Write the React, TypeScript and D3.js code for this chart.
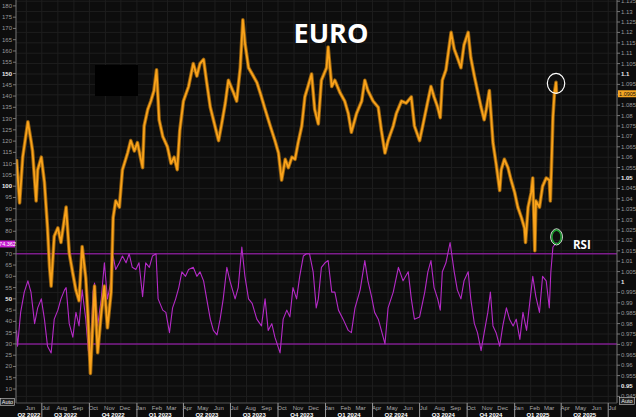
import * as d3 from "d3"

// EUR/USD (date, price)
const priceSeries: [string, number][] = [
  ["2022-05-13", 1.059], ["2022-05-19", 1.038], ["2022-05-25", 1.06], ["2022-06-04", 1.077],
  ["2022-06-10", 1.068], ["2022-06-13", 1.063], ["2022-06-20", 1.039], ["2022-06-23", 1.054],
  ["2022-06-30", 1.06], ["2022-07-06", 1.048], ["2022-07-12", 1.026], ["2022-07-16", 1.007],
  ["2022-07-19", 0.998], ["2022-07-25", 1.022], ["2022-08-01", 1.026], ["2022-08-07", 1.019],
  ["2022-08-17", 1.036], ["2022-08-23", 1.014], ["2022-08-30", 1.004], ["2022-09-05", 0.996],
  ["2022-09-11", 0.991], ["2022-09-17", 1.017], ["2022-09-24", 1.002], ["2022-09-28", 0.985],
  ["2022-10-03", 0.956], ["2022-10-08", 0.982], ["2022-10-11", 0.998], ["2022-10-17", 0.966],
  ["2022-10-24", 0.985], ["2022-10-30", 0.998], ["2022-11-05", 0.978], ["2022-11-12", 0.995],
  ["2022-11-16", 1.031], ["2022-11-21", 1.039], ["2022-11-28", 1.036], ["2022-12-04", 1.054],
  ["2022-12-14", 1.062], ["2022-12-20", 1.068], ["2022-12-27", 1.063], ["2023-01-02", 1.067],
  ["2023-01-12", 1.055], ["2023-01-15", 1.075], ["2023-01-22", 1.083], ["2023-01-28", 1.087],
  ["2023-02-03", 1.092], ["2023-02-08", 1.102], ["2023-02-13", 1.078], ["2023-02-20", 1.07],
  ["2023-03-01", 1.065], ["2023-03-08", 1.057], ["2023-03-14", 1.06], ["2023-03-20", 1.054],
  ["2023-03-25", 1.073], ["2023-04-01", 1.087], ["2023-04-11", 1.094], ["2023-04-20", 1.105],
  ["2023-04-27", 1.099], ["2023-05-03", 1.105], ["2023-05-10", 1.107], ["2023-05-16", 1.096],
  ["2023-05-23", 1.084], ["2023-06-01", 1.075], ["2023-06-08", 1.068], ["2023-06-14", 1.076],
  ["2023-06-21", 1.086], ["2023-06-27", 1.097], ["2023-07-07", 1.091], ["2023-07-13", 1.087],
  ["2023-07-20", 1.103], ["2023-07-25", 1.126], ["2023-07-29", 1.115], ["2023-08-05", 1.103],
  ["2023-08-12", 1.1], ["2023-08-21", 1.096], ["2023-08-30", 1.089], ["2023-09-06", 1.083],
  ["2023-09-16", 1.075], ["2023-09-25", 1.068], ["2023-10-02", 1.062], ["2023-10-08", 1.049],
  ["2023-10-15", 1.059], ["2023-10-21", 1.055], ["2023-10-28", 1.06], ["2023-11-03", 1.059],
  ["2023-11-09", 1.067], ["2023-11-16", 1.075], ["2023-11-22", 1.089], ["2023-11-28", 1.094],
  ["2023-12-05", 1.1], ["2023-12-11", 1.083], ["2023-12-18", 1.076], ["2023-12-24", 1.097],
  ["2024-01-03", 1.103], ["2024-01-06", 1.113], ["2024-01-13", 1.094], ["2024-01-19", 1.097],
  ["2024-01-29", 1.091], ["2024-02-07", 1.087], ["2024-02-14", 1.081], ["2024-02-20", 1.072],
  ["2024-03-01", 1.081], ["2024-03-11", 1.087], ["2024-03-17", 1.097], ["2024-03-23", 1.092],
  ["2024-04-02", 1.087], ["2024-04-12", 1.084], ["2024-04-18", 1.073], ["2024-04-25", 1.062],
  ["2024-05-01", 1.068], ["2024-05-11", 1.075], ["2024-05-17", 1.081], ["2024-05-27", 1.087],
  ["2024-06-05", 1.086], ["2024-06-15", 1.089], ["2024-06-21", 1.075], ["2024-07-01", 1.068],
  ["2024-07-07", 1.075], ["2024-07-17", 1.087], ["2024-07-23", 1.094], ["2024-07-29", 1.089],
  ["2024-08-05", 1.084], ["2024-08-10", 1.079], ["2024-08-14", 1.097], ["2024-08-21", 1.102],
  ["2024-08-31", 1.12], ["2024-09-06", 1.112], ["2024-09-12", 1.108], ["2024-09-19", 1.103],
  ["2024-09-25", 1.114], ["2024-10-03", 1.12], ["2024-10-08", 1.108], ["2024-10-15", 1.099],
  ["2024-10-21", 1.092], ["2024-10-28", 1.084], ["2024-11-03", 1.078], ["2024-11-07", 1.083],
  ["2024-11-13", 1.092], ["2024-11-20", 1.067], ["2024-11-26", 1.057], ["2024-12-03", 1.044],
  ["2024-12-06", 1.054], ["2024-12-12", 1.059], ["2024-12-19", 1.055], ["2024-12-25", 1.049],
  ["2025-01-01", 1.043], ["2025-01-07", 1.036], ["2025-01-14", 1.031], ["2025-01-20", 1.026],
  ["2025-01-22", 1.019], ["2025-01-27", 1.036], ["2025-02-02", 1.043], ["2025-02-05", 1.05],
  ["2025-02-09", 1.015], ["2025-02-11", 1.039], ["2025-02-18", 1.036], ["2025-02-24", 1.046],
  ["2025-03-03", 1.05], ["2025-03-09", 1.049], ["2025-03-11", 1.039], ["2025-03-14", 1.062],
  ["2025-03-16", 1.079], ["2025-03-19", 1.091], ["2025-03-22", 1.096], ["2025-03-23", 1.0905],
]

// 14-day RSI (date, value)
const rsiSeries: [string, number][] = [
  ["2022-05-13", 36], ["2022-05-15", 29], ["2022-05-21", 44], ["2022-05-28", 53], ["2022-06-04", 58],
  ["2022-06-10", 53], ["2022-06-17", 39], ["2022-06-23", 46], ["2022-06-30", 50], ["2022-07-06", 41],
  ["2022-07-12", 29], ["2022-07-19", 26], ["2022-07-25", 41], ["2022-08-01", 45], ["2022-08-07", 50],
  ["2022-08-14", 54], ["2022-08-17", 55], ["2022-08-23", 39], ["2022-08-30", 33], ["2022-09-05", 44],
  ["2022-09-11", 38], ["2022-09-17", 54], ["2022-09-24", 41], ["2022-09-29", 27], ["2022-10-03", 22],
  ["2022-10-08", 53], ["2022-10-11", 57], ["2022-10-17", 38], ["2022-10-24", 50], ["2022-10-30", 66],
  ["2022-11-05", 50], ["2022-11-12", 58], ["2022-11-16", 69], ["2022-11-21", 63], ["2022-11-28", 66],
  ["2022-12-04", 69], ["2022-12-11", 66], ["2022-12-17", 70], ["2022-12-23", 64], ["2022-12-30", 63],
  ["2023-01-05", 66], ["2023-01-12", 51], ["2023-01-18", 66], ["2023-01-25", 64], ["2023-01-31", 69],
  ["2023-02-07", 70], ["2023-02-11", 50], ["2023-02-20", 45], ["2023-02-26", 44], ["2023-03-05", 35],
  ["2023-03-11", 46], ["2023-03-17", 50], ["2023-03-23", 55], ["2023-03-29", 62], ["2023-04-05", 60],
  ["2023-04-11", 63], ["2023-04-20", 64], ["2023-04-27", 60], ["2023-05-03", 62], ["2023-05-10", 58],
  ["2023-05-16", 50], ["2023-05-23", 41], ["2023-05-29", 36], ["2023-06-05", 34], ["2023-06-11", 41],
  ["2023-06-17", 50], ["2023-06-24", 64], ["2023-06-30", 58], ["2023-07-10", 50], ["2023-07-16", 55],
  ["2023-07-23", 73], ["2023-07-29", 60], ["2023-08-05", 50], ["2023-08-12", 48], ["2023-08-21", 41],
  ["2023-08-30", 38], ["2023-09-06", 50], ["2023-09-12", 36], ["2023-09-19", 39], ["2023-09-25", 33],
  ["2023-10-05", 26], ["2023-10-11", 41], ["2023-10-18", 45], ["2023-10-24", 42], ["2023-10-30", 55],
  ["2023-11-06", 50], ["2023-11-12", 60], ["2023-11-19", 69], ["2023-11-25", 70], ["2023-12-01", 70],
  ["2023-12-08", 62], ["2023-12-14", 46], ["2023-12-18", 50], ["2023-12-24", 64], ["2023-12-31", 66],
  ["2024-01-06", 67], ["2024-01-13", 53], ["2024-01-19", 53], ["2024-01-26", 45], ["2024-02-04", 41],
  ["2024-02-14", 36], ["2024-02-20", 35], ["2024-02-27", 46], ["2024-03-08", 54], ["2024-03-17", 67],
  ["2024-03-23", 58], ["2024-03-30", 51], ["2024-04-05", 44], ["2024-04-12", 41], ["2024-04-18", 36],
  ["2024-04-25", 30], ["2024-05-01", 46], ["2024-05-11", 53], ["2024-05-21", 64], ["2024-05-30", 58],
  ["2024-06-09", 62], ["2024-06-15", 50], ["2024-06-21", 41], ["2024-07-01", 42], ["2024-07-11", 53],
  ["2024-07-17", 62], ["2024-07-23", 67], ["2024-07-29", 55], ["2024-08-05", 50], ["2024-08-10", 45],
  ["2024-08-14", 62], ["2024-08-21", 66], ["2024-08-29", 75], ["2024-09-06", 62], ["2024-09-12", 54],
  ["2024-09-19", 50], ["2024-09-25", 58], ["2024-10-03", 62], ["2024-10-08", 50], ["2024-10-15", 39],
  ["2024-10-21", 35], ["2024-10-28", 27], ["2024-11-03", 35], ["2024-11-10", 44], ["2024-11-15", 53],
  ["2024-11-20", 38], ["2024-11-26", 35], ["2024-12-03", 29], ["2024-12-09", 38], ["2024-12-16", 46],
  ["2024-12-22", 41], ["2024-12-29", 38], ["2025-01-04", 41], ["2025-01-11", 32], ["2025-01-17", 44],
  ["2025-01-24", 36], ["2025-01-30", 48], ["2025-02-05", 60], ["2025-02-11", 51], ["2025-02-18", 44],
  ["2025-02-24", 60], ["2025-03-03", 58], ["2025-03-09", 46], ["2025-03-12", 62], ["2025-03-16", 73],
  ["2025-03-23", 75],
]

const rsiLevels = [70, 30]
const rsiTicks = d3.range(10, 181, 5)
const priceTicks = d3.range(945, 1136, 5).map((v) => v / 1000)
const lastPrice = "1.0905"
const lastRsi = "74.362"

const W = 636
const H = 417
const plot = { left: 16, right: 617, top: 0, bottom: 403 }

const parse = d3.timeParse("%Y-%m-%d")

export default function App() {
  const x = d3
    .scaleTime()
    .domain([new Date(2022, 4, 12), new Date(2025, 6, 18)])
    .range([plot.left, plot.right])
  const yPrice = d3.scaleLinear().domain([0.945, 1.135]).range([396.4, 1.2])
  const yRsi = d3.scaleLinear().domain([10, 180]).range([389, 5.9])

  const price = priceSeries.map(([d, v]) => ({ date: parse(d) as Date, v }))
  const rsi = rsiSeries.map(([d, v]) => ({ date: parse(d) as Date, v }))

  const priceLine = d3
    .line<{ date: Date; v: number }>()
    .x((d) => x(d.date))
    .y((d) => yPrice(d.v))
  const rsiLine = d3
    .line<{ date: Date; v: number }>()
    .x((d) => x(d.date))
    .y((d) => yRsi(d.v))

  const months = d3.timeMonth.range(new Date(2022, 5, 1), new Date(2025, 7, 1))
  const quarters = d3.timeMonth.every(3)!.range(new Date(2022, 3, 1), new Date(2025, 6, 1))
  const fmtPrice = (v: number) => String(+v.toFixed(3))
  const axisFont = "'Liberation Sans', Arial, sans-serif"

  const last = price[price.length - 1]
  const lastR = rsi[rsi.length - 1]
  const lastPriceY = yPrice(+lastPrice)
  const lastRsiY = yRsi(+lastRsi)

  return (
    <svg
      width={W}
      height={H}
      style={{ position: "absolute", left: 0, top: 0, display: "block", background: "#0d0d0d" }}
    >
      <defs>
        <clipPath id="plotClip">
          <rect x={plot.left} y={plot.top} width={plot.right - plot.left} height={plot.bottom - plot.top} />
        </clipPath>
      </defs>
      <rect x={0} y={0} width={W} height={H} fill="#0d0d0d" />

      {/* grid */}
      <g stroke="#1e1e1e" strokeWidth={1}>
        {priceTicks.map((t) => (
          <line key={"h" + t} x1={plot.left} x2={plot.right} y1={yPrice(t)} y2={yPrice(t)} />
        ))}
        {months.map((m) => (
          <line key={"v" + +m} x1={x(m)} x2={x(m)} y1={plot.top} y2={plot.bottom} />
        ))}
      </g>

      {/* redaction box */}
      <rect x={95} y={65} width={43} height={31} fill="#000" />

      {/* RSI and price */}
      <g clipPath="url(#plotClip)">
        {rsiLevels.map((l) => (
          <line key={l} x1={plot.left} x2={plot.right} y1={yRsi(l)} y2={yRsi(l)} stroke="#7d1d8c" strokeWidth={1.5} />
        ))}
        <path d={rsiLine(rsi) ?? ""} fill="none" stroke="#b42ac6" strokeWidth={1.1} strokeLinejoin="round" />
        <path d={priceLine(price) ?? ""} fill="none" stroke="#b8760e" strokeWidth={3.6} strokeLinejoin="round" opacity={0.8} />
        <path d={priceLine(price) ?? ""} fill="none" stroke="#ffa71c" strokeWidth={1.8} strokeLinejoin="round" opacity={0.95} />
      </g>

      {/* left axis (RSI scale) */}
      <line x1={plot.left} x2={plot.left} y1={0} y2={plot.bottom} stroke="#777" />
      <g fontFamily={axisFont} fontSize={6} textAnchor="end">
        {rsiTicks.map((t) => (
          <g key={"l" + t}>
            <line x1={plot.left - 3} x2={plot.left} y1={yRsi(t)} y2={yRsi(t)} stroke="#777" />
            {Math.abs(yRsi(t) - lastRsiY) > 6 && (
              <text
                x={plot.left - 4}
                y={yRsi(t) + 2}
                fill={t % 50 === 0 ? "#eee" : "#999"}
                fontWeight={t % 50 === 0 ? 700 : 400}
              >
                {t}
              </text>
            )}
          </g>
        ))}
      </g>
      <rect x={0} y={lastRsiY - 3.5} width={15} height={7} fill="#c51cd0" />
      <text x={7.5} y={lastRsiY + 2} fontFamily={axisFont} fontSize={5.5} fill="#fff" textAnchor="middle">
        {lastRsi}
      </text>

      {/* right axis (price) */}
      <line x1={plot.right} x2={plot.right} y1={0} y2={plot.bottom} stroke="#777" />
      <g fontFamily={axisFont} fontSize={6}>
        {priceTicks.map((t) => {
          const major = Math.round(t * 1000) % 50 === 0
          return (
            <g key={"r" + t}>
              <line x1={plot.right} x2={plot.right + 3} y1={yPrice(t)} y2={yPrice(t)} stroke="#777" />
              {Math.abs(yPrice(t) - lastPriceY) > 6 && (
                <text x={plot.right + 4} y={yPrice(t) + 2} fill={major ? "#eee" : "#999"} fontWeight={major ? 700 : 400}>
                  {fmtPrice(t)}
                </text>
              )}
            </g>
          )
        })}
      </g>
      <rect x={plot.right + 1} y={lastPriceY - 3.5} width={19} height={7} fill="#f5a623" />
      <text x={plot.right + 10.5} y={lastPriceY + 2} fontFamily={axisFont} fontSize={5.5} fill="#111" textAnchor="middle">
        {lastPrice}
      </text>

      {/* Auto boxes */}
      <rect x={0.5} y={398.5} width={14} height={7} fill="#222" stroke="#ccc" strokeWidth={0.6} />
      <text x={7.5} y={404} fontFamily={axisFont} fontSize={5.5} fill="#eee" textAnchor="middle">Auto</text>
      <rect x={619.5} y={397.5} width={15} height={7} fill="#222" stroke="#ccc" strokeWidth={0.6} />
      <text x={627} y={403} fontFamily={axisFont} fontSize={5.5} fill="#eee" textAnchor="middle">Auto</text>

      {/* bottom axis */}
      <line x1={plot.left} x2={plot.right} y1={plot.bottom} y2={plot.bottom} stroke="#555" />
      <g fontFamily={axisFont} fontSize={6} textAnchor="middle">
        {months.map((m) => (
          <text key={"m" + +m} x={x(m) + 4} y={410} fill="#aaa">
            {d3.timeFormat("%b")(m)}
          </text>
        ))}
        {quarters.map((q) => {
          const end = d3.timeMonth.offset(q, 3)
          const a = Math.max(x(q), plot.left)
          const b = Math.min(x(end), plot.right)
          const label = `Q${Math.floor(q.getMonth() / 3) + 1} ${q.getFullYear()}`
          return (
            <g key={"q" + +q}>
              {x(q) > plot.left && <line x1={x(q)} x2={x(q)} y1={plot.bottom} y2={H} stroke="#999" />}
              <text x={(a + b) / 2} y={417} fill="#fff" fontWeight={700}>
                {label}
              </text>
            </g>
          )
        })}
        <line x1={x(new Date(2025, 6, 1))} x2={x(new Date(2025, 6, 1))} y1={plot.bottom} y2={H} stroke="#999" />
      </g>

      {/* annotations */}
      <text x={331} y={43} fontFamily="'Open Sans', sans-serif" fontWeight={700} fontSize={27} fill="#fff" textAnchor="middle">
        EURO
      </text>
      <ellipse cx={x(last.date) - 0.5} cy={yPrice(1.0955)} rx={8.7} ry={10} fill="none" stroke="#fff" strokeWidth={1.2} />
      <ellipse cx={x(lastR.date)} cy={yRsi(77.5)} rx={5.8} ry={8} fill="none" stroke="#fff" strokeWidth={1} />
      <ellipse cx={x(lastR.date)} cy={yRsi(77.5)} rx={4.6} ry={6.8} fill="none" stroke="#1f9a32" strokeWidth={1.6} />
      <text x={573} y={249} fontFamily="'Open Sans', sans-serif" fontWeight={700} fontSize={11.5} fill="#fff">
        RSI
      </text>
    </svg>
  )
}
